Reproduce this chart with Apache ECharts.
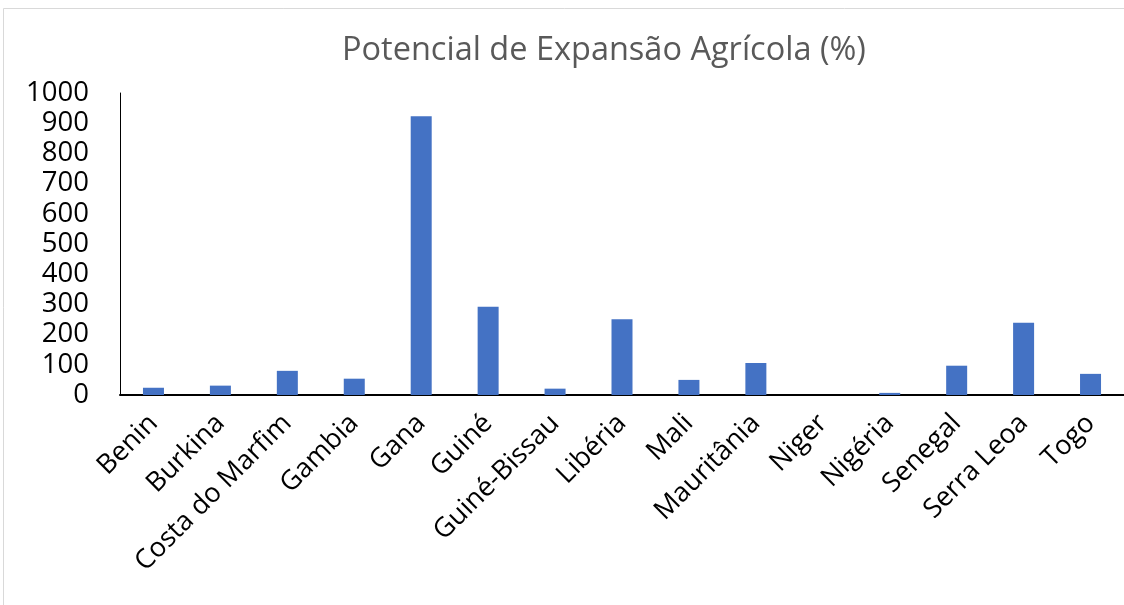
<!DOCTYPE html>
<html>
<head>
<meta charset="utf-8">
<script src="https://cdn.jsdelivr.net/npm/echarts@6/dist/echarts.min.js"></script>
<style>
html,body{margin:0;padding:0;background:#fff;}
#chart{width:1124px;height:605px;}
</style>
</head>
<body>
<div id="chart"></div>
<script>
const categories = ["Benin","Burkina","Costa do Marfim","Gambia","Gana","Guiné","Guiné-Bissau","Libéria","Mali","Mauritânia","Niger","Nigéria","Senegal","Serra Leoa","Togo"];
const values = [24, 31, 80, 54, 923, 292, 21, 251, 50, 106, 0, 7, 97, 239, 70];
const yTicks = [0,100,200,300,400,500,600,700,800,900,1000];
const titleText = "Potencial de Expansão Agrícola (%)";

const chart = echarts.init(document.getElementById('chart'), null, {renderer:'canvas'});
chart.setOption({
  backgroundColor:'#ffffff',
  animation:false,
  title:{
    text:titleText, left:337, top:29,
    textStyle:{fontFamily:'Open Sans', fontSize:32.5, fontWeight:'normal', color:'#595959'}
  },
  graphic:[{type:'rect', shape:{x:3.5,y:8.5,width:1130,height:700}, style:{fill:'none', stroke:'#d9d9d9', lineWidth:1}, silent:true}],
  grid:{left:120, right:-7, top:93, bottom:210, containLabel:false},
  xAxis:{
    type:'category', data:categories,
    axisLine:{show:true, lineStyle:{color:'#000', width:2}},
    axisTick:{show:false},
    axisLabel:{rotate:45, interval:0, margin:24, fontFamily:'Open Sans', fontSize:27, color:'#000'}
  },
  yAxis:{
    type:'value', min:0, max:1000, interval:100,
    axisLine:{show:true, lineStyle:{color:'#000', width:1}},
    axisTick:{show:false},
    splitLine:{show:false},
    axisLabel:{margin:31, fontFamily:'Open Sans', fontSize:27.5, color:'#000',
      formatter:function(v){return yTicks.indexOf(v)>=0 ? String(v) : '';}}
  },
  series:[{type:'bar', data:values, barWidth:21, itemStyle:{color:'#4472C4'}}]
});
</script>
</body>
</html>
